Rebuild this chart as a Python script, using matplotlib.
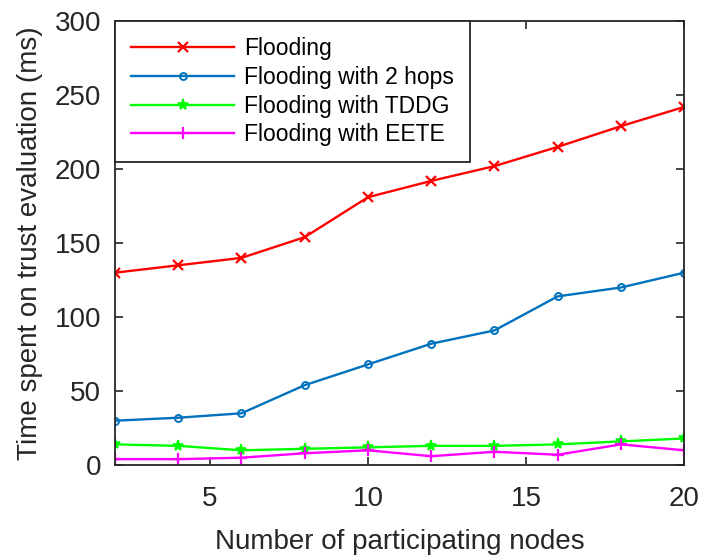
import matplotlib
matplotlib.use("Agg")
import matplotlib.pyplot as plt

# ---- data -----------------------------------------------------------
nodes = [2, 4, 6, 8, 10, 12, 14, 16, 18, 20]
flooding = [130, 135, 140, 154, 181, 192, 202, 215, 229, 242]
flooding_2hops = [30, 32, 35, 54, 68, 82, 91, 114, 120, 130]
flooding_tddg = [14, 13, 10, 11, 12, 13, 13, 14, 16, 18]
flooding_eete = [4, 4, 5, 8, 10, 6, 9, 7, 14, 10]

plt.rcParams['font.family'] = ['Liberation Sans', 'DejaVu Sans']

fig = plt.figure(figsize=(7.01, 5.55), dpi=100)
ax = fig.add_axes([0.164, 0.162, 0.812, 0.800])

lw = 1.7
ax.plot(nodes, flooding, color=(1, 0, 0), marker='x', ms=6.5, mew=1.6,
        lw=lw, label="Flooding")
ax.plot(nodes, flooding_2hops, color=(0, 0.447, 0.741), marker='o', ms=5,
        mfc='none', mew=1.4, lw=lw, label="Flooding with 2 hops")
ax.plot(nodes, flooding_tddg, color=(0, 1, 0), marker='*', ms=8, mew=1.2,
        lw=lw, label="Flooding with TDDG")
ax.plot(nodes, flooding_eete, color=(1, 0, 1), marker='+', ms=8, mew=1.6,
        lw=lw, label="Flooding with EETE")

ax.set_xlim(2, 20)
ax.set_ylim(0, 300)
ax.set_xticks([5, 10, 15, 20])
ax.set_yticks([0, 50, 100, 150, 200, 250, 300])
ax.tick_params(axis='both', direction='in', top=True, right=True,
               labelsize=20, length=6, width=1.2, colors='#262626')
ax.tick_params(axis='y', pad=10)
ax.tick_params(axis='x', pad=15)
for s in ax.spines.values():
    s.set_linewidth(1.3)
    s.set_color('#262626')

ax.set_xlabel("Number of participating nodes", fontsize=20, color='#262626',
              labelpad=12)
ax.set_ylabel("Time spent on trust evaluation (ms)", fontsize=20,
              color='#262626', labelpad=8)

leg = ax.legend(loc='upper left', bbox_to_anchor=(0.0, 1.0), fontsize=16.5,
                handlelength=4.5, handletextpad=0.45, borderaxespad=0.0,
                labelspacing=0.25, fancybox=False, framealpha=1,
                borderpad=0.7)
leg.get_frame().set_edgecolor('#262626')
leg.get_frame().set_linewidth(1.3)

fig.savefig("out.png", dpi=100)
